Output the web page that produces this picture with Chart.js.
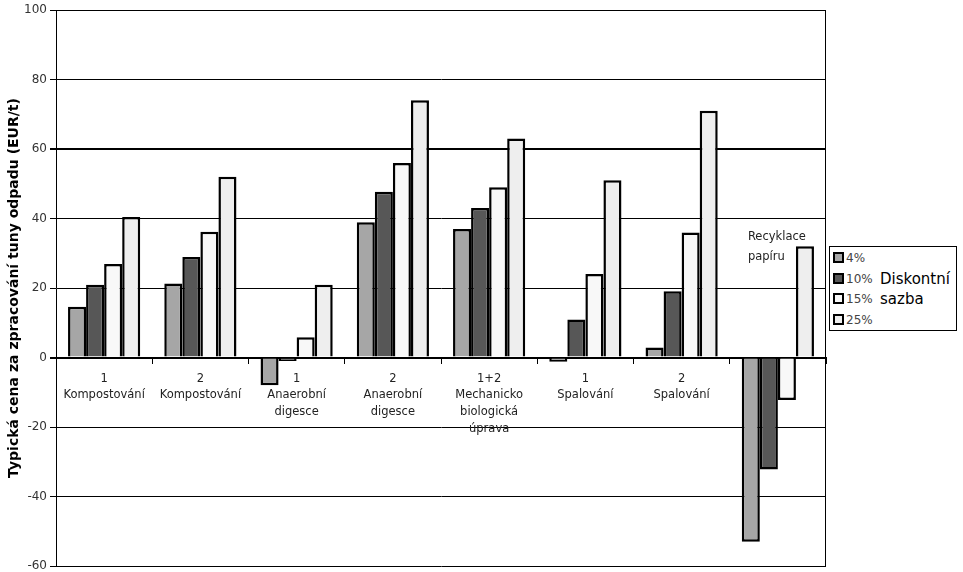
<!DOCTYPE html>
<html lang="cs">
<head>
<meta charset="utf-8">
<script src="https://cdn.jsdelivr.net/npm/chart.js@4"></script>
<style>
  html, body { margin: 0; padding: 0; background: #fff; }
  #wrap { position: relative; width: 963px; height: 572px; }
  #legenda {
    position: absolute; left: 829px; top: 246px; width: 128px; height: 85px;
    border: 1px solid #000; background: #fff; box-sizing: border-box;
    font-family: "DejaVu Sans", sans-serif;
  }
  .polozka { position: absolute; left: 3px; font-size: 12px; color: #444; line-height: 14px; }
  .ctverec { display: inline-block; width: 7px; height: 7px; border: 2px solid #000; margin-right: 2px; vertical-align: -1px; }
  .sazba { position: absolute; left: 50px; font-size: 15px; color: #000; }
</style>
</head>
<body>
<div id="wrap">
  <canvas id="graf" width="963" height="572"></canvas>
  <div id="legenda"></div>
</div>
<script>
// Data grafu
const kategorie = [
  ['1', 'Kompostování'],
  ['2', 'Kompostování'],
  ['1', 'Anaerobní', 'digesce'],
  ['2', 'Anaerobní', 'digesce'],
  ['1+2', 'Mechanicko', 'biologická', 'úprava'],
  ['1', 'Spalování'],
  ['2', 'Spalování'],
  ''
];
const sazby = ['4%', '10%', '15%', '25%'];
const hodnoty4 = [14.6, 21.3, -8, 38.9, 37, -1.2, 2.9, -53];
const hodnoty10 = [20.9, 28.9, -1, 47.7, 43, 10.9, 19.1, -32.2];
const hodnoty15 = [26.9, 36.2, 5.8, 56, 49, 24, 36, -12.2];
const hodnoty25 = [40.4, 52, 20.9, 74, 63, 51, 71, 32];
const barvy = ['#a6a6a6', '#575757', '#f8f8f8', '#eeeeee'];
const osaY = { min: -60, max: 100, krok: 20 };

const font = 'DejaVu Sans';

// Ramecek kolem plochy grafu a popisek recyklace
const ramecek = {
  id: 'ramecek',
  afterDraw(chart) {
    const { ctx, chartArea: a, scales } = chart;
    ctx.save();
    ctx.strokeStyle = '#000';
    ctx.lineWidth = 1;
    ctx.beginPath();
    ctx.moveTo(a.left, a.top + 0.5);
    ctx.lineTo(a.right - 0.5, a.top + 0.5);
    ctx.lineTo(a.right - 0.5, a.bottom);
    ctx.stroke();
    ctx.fillStyle = '#222';
    ctx.font = '11.5px "' + font + '"';
    ctx.textAlign = 'left';
    ctx.textBaseline = 'middle';
    const x = scales.x.getPixelForValue(7) - 30;
    ctx.fillText('Recyklace', x, scales.y.getPixelForValue(34.7));
    ctx.fillText('papíru', x, scales.y.getPixelForValue(28.9));
    ctx.restore();
  }
};

const serie = [hodnoty4, hodnoty10, hodnoty15, hodnoty25];

new Chart(document.getElementById('graf').getContext('2d'), {
  type: 'bar',
  data: {
    labels: kategorie,
    datasets: serie.map((d, i) => ({
      label: sazby[i],
      data: d,
      backgroundColor: barvy[i],
      borderColor: '#000',
      borderWidth: 2.5,
      categoryPercentage: 0.75,
      barPercentage: 1
    }))
  },
  options: {
    responsive: false,
    animation: false,
    layout: { padding: { left: 0, right: 137, top: 10, bottom: 6 } },
    plugins: { legend: { display: false }, tooltip: { enabled: false } },
    scales: {
      x: {
        position: { y: 0 },
        grid: { offset: true, drawOnChartArea: false, tickLength: 5, color: '#000', lineWidth: 1 },
        border: { color: '#000', width: 2 },
        ticks: {
          color: '#222',
          font: { family: font, size: 11.5, lineHeight: 1.45 },
          padding: 8,
          maxRotation: 0,
          autoSkip: false
        }
      },
      y: {
        min: osaY.min,
        max: osaY.max,
        afterFit(s) {
          s.width = 56;
          s.paddingTop = 0;
          s.paddingBottom = 0;
        },
        grid: {
          color: '#000',
          lineWidth: c => (c.tick && (c.tick.value === 60 || c.tick.value === 0)) ? 2 : 1,
          tickLength: 6
        },
        border: { color: '#000', width: 1 },
        ticks: {
          stepSize: osaY.krok,
          color: '#333',
          font: { family: font, size: 12 },
          padding: 3
        },
        title: {
          display: true,
          text: 'Typická cena za zpracování tuny odpadu (EUR/t)',
          color: '#000',
          font: { family: font, size: 14, weight: 'bold' },
          padding: { top: 6, bottom: 0 }
        }
      }
    }
  },
  plugins: [ramecek]
});

// Legenda
const legenda = document.getElementById('legenda');
sazby.forEach((s, i) => {
  const el = document.createElement('div');
  el.className = 'polozka';
  el.style.top = (4 + i * 20.7) + 'px';
  el.innerHTML = '<span class="ctverec" style="background:' + barvy[i] + '"></span>' + s;
  legenda.appendChild(el);
});
['Diskontní', 'sazba'].forEach((t, i) => {
  const el = document.createElement('div');
  el.className = 'sazba';
  el.style.top = (23 + i * 20) + 'px';
  el.textContent = t;
  legenda.appendChild(el);
});
</script>
</body>
</html>
